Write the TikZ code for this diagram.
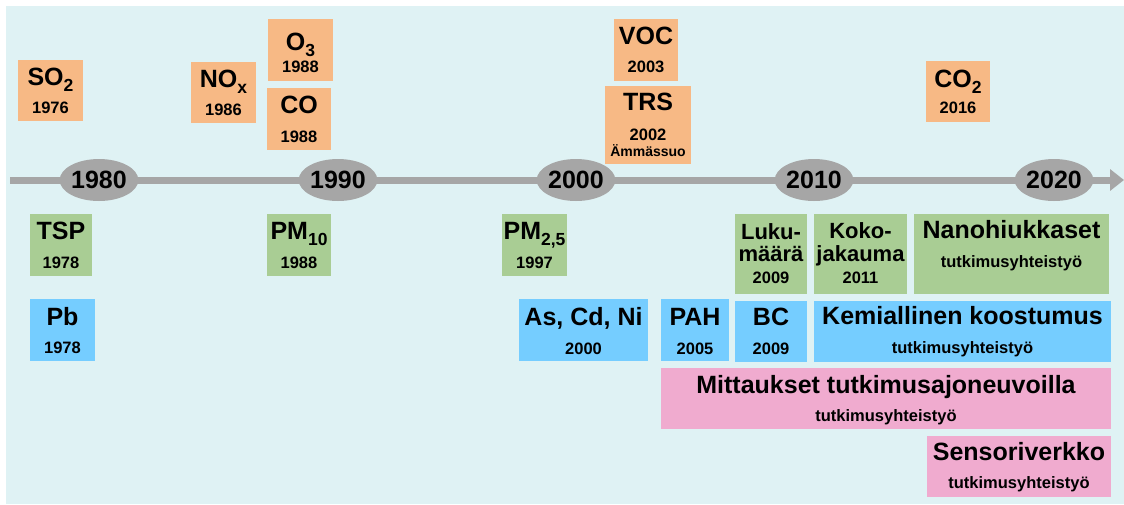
\documentclass[tikz,border=0pt]{standalone}
\usepackage{fontspec}
\setmainfont{Liberation Sans}
\usetikzlibrary{fit,shapes.geometric,arrows.meta}
\definecolor{bgc}{RGB}{223,242,244}
\definecolor{orgc}{RGB}{247,185,133}
\definecolor{grnc}{RGB}{169,205,148}
\definecolor{bluc}{RGB}{117,205,255}
\definecolor{pnkc}{RGB}{240,171,207}
\definecolor{grayc}{RGB}{166,166,166}
\newcommand\subs[1]{\raisebox{-6pt}{\fontsize{17.5}{17.5}\selectfont #1}}
\begin{document}
\begin{tikzpicture}[x=1pt,y=-1pt,
  boxbase/.style={inner sep=0pt, outer sep=0pt, draw=none},
  ob/.style={boxbase, fill=orgc},
  gb/.style={boxbase, fill=grnc},
  bb/.style={boxbase, fill=bluc},
  pb/.style={boxbase, fill=pnkc},
  big/.style={anchor=base, inner sep=0pt, font=\fontsize{25}{25}\selectfont\bfseries},
  mid/.style={anchor=base, inner sep=0pt, font=\fontsize{22}{22}\selectfont\bfseries},
  small/.style={anchor=base, inner sep=0pt, font=\fontsize{16.5}{16.5}\selectfont\bfseries},
  tiny/.style={anchor=base, inner sep=0pt, font=\fontsize{14}{14}\selectfont\bfseries},
  yr/.style={ellipse, fill=grayc, minimum width=75pt, minimum height=42pt, inner sep=0pt, font=\fontsize{25}{25}\selectfont\bfseries}
]
\useasboundingbox (0,0) rectangle (1124,504);
\fill[white] (0,0) rectangle (1124,504);
\fill[bgc] (6,6) rectangle (1124,504);

% timeline
\coordinate (tstart) at (10,180);
\coordinate (tend) at (1124,180);
\draw[grayc, line width=7pt, -{Triangle[length=14pt,width=21pt]}] (tstart) -- (tend);
\node[yr] (y1980) at (99,180) {1980};
\node[yr] (y1990) at (338,180) {1990};
\node[yr] (y2000) at (576,180) {2000};
\node[yr] (y2010) at (814,180) {2010};
\node[yr] (y2020) at (1054,180) {2020};

% orange boxes
\node[ob, fit={(18,60) (83,121)}] (so2) {};
\node[big] (so2t) at (50.5,85) {SO\subs{2}};
\node[small] (so2y) at (50.5,113) {1976};

\node[ob, fit={(191,62) (256,123)}] (nox) {};
\node[big] (noxt) at (223.5,87) {NO\subs{x}};
\node[small] (noxy) at (223.5,115) {1986};

\node[ob, fit={(268,19) (333,81)}] (o3) {};
\node[big] (o3t) at (300.5,50) {O\subs{3}};
\node[small] (o3y) at (300.5,72) {1988};

\node[ob, fit={(267,88) (331,150)}] (co) {};
\node[big] (cot) at (299,113) {CO};
\node[small] (coy) at (299,142) {1988};

\node[ob, fit={(614,19) (678,81)}] (voc) {};
\node[big] (voct) at (646,44) {VOC};
\node[small] (vocy) at (646,72) {2003};

\node[ob, fit={(605,86) (691,164)}] (trs) {};
\node[big] (trst) at (648,110) {TRS};
\node[small] (trsy) at (648,140) {2002};
\node[tiny] (trsp) at (648,156) {Ämmässuo};

\node[ob, fit={(926,61) (990,122)}] (co2) {};
\node[big] (co2t) at (958,87) {CO\subs{2}};
\node[small] (co2y) at (958,113) {2016};

% green boxes
\node[gb, fit={(30,214) (92,276)}] (tsp) {};
\node[big] (tspt) at (61,239) {TSP};
\node[small] (tspy) at (61,268) {1978};

\node[gb, fit={(267,214) (331,276)}] (pm10) {};
\node[big] (pm10t) at (299,239) {PM\subs{10}};
\node[small] (pm10y) at (299,268) {1988};

\node[gb, fit={(502,214) (567,276)}] (pm25) {};
\node[big] (pm25t) at (534.5,239) {PM\subs{2,5}};
\node[small] (pm25y) at (534.5,268) {1997};

\node[gb, fit={(735,214) (807,294)}] (luku) {};
\node[mid] (lukua) at (771,239) {Luku-};
\node[mid] (lukub) at (771,261) {määrä};
\node[small] (lukuy) at (771,283) {2009};

\node[gb, fit={(814,214) (907,294)}] (koko) {};
\node[mid] (kokoa) at (860.5,238) {Koko-};
\node[mid] (kokob) at (860.5,261) {jakauma};
\node[small] (kokoy) at (860.5,283) {2011};

\node[gb, fit={(914,214) (1109,294)}] (nano) {};
\node[big] (nanot) at (1011.5,238) {Nanohiukkaset};
\node[small] (nanoy) at (1011.5,267) {tutkimusyhteistyö};

% blue boxes
\node[bb, fit={(30,299) (95,361)}] (pbx) {};
\node[big] (pbt) at (62.5,325) {Pb};
\node[small] (pby) at (62.5,353) {1978};

\node[bb, fit={(519,299) (648,361)}] (ascdni) {};
\node[big] (ascdnit) at (583.5,325) {As, Cd, Ni};
\node[small] (ascdniy) at (583.5,354) {2000};

\node[bb, fit={(661,299) (729,361)}] (pah) {};
\node[big] (paht) at (695,325) {PAH};
\node[small] (pahy) at (695,354) {2005};

\node[bb, fit={(735,301) (807,362)}] (bc) {};
\node[big] (bct) at (771,325) {BC};
\node[small] (bcy) at (771,354) {2009};

\node[bb, fit={(814,301) (1111,362)}] (kemia) {};
\node[big] (kemiat) at (962.5,324) {Kemiallinen koostumus};
\node[small] (kemiay) at (962.5,353) {tutkimusyhteistyö};

% pink boxes
\node[pb, fit={(661,368) (1111,429)}] (mitt) {};
\node[big] (mittt) at (886,393) {Mittaukset tutkimusajoneuvoilla};
\node[small] (mitty) at (886,421) {tutkimusyhteistyö};

\node[pb, fit={(927,436) (1111,497)}] (sens) {};
\node[big] (senst) at (1019,460) {Sensoriverkko};
\node[small] (sensy) at (1019,488) {tutkimusyhteistyö};
\end{tikzpicture}
\end{document}
